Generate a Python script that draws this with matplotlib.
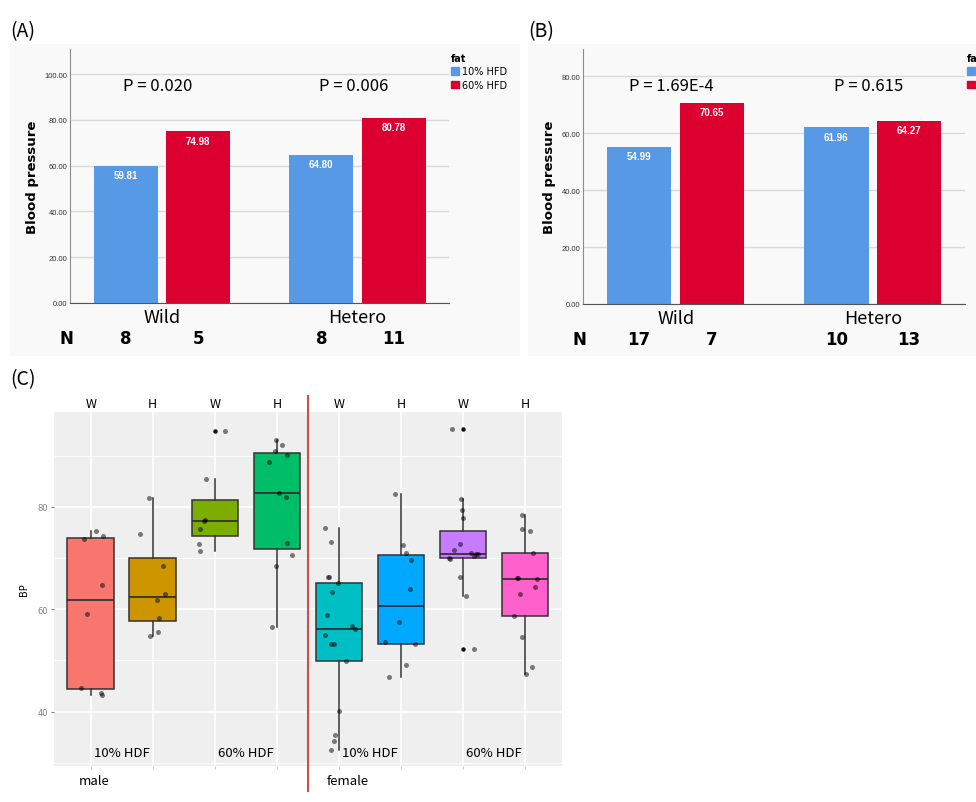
import numpy as np
import matplotlib.pyplot as plt
import matplotlib.transforms as mtransforms
from matplotlib.patches import Rectangle, Patch
from matplotlib import font_manager

plt.rcParams['font.family'] = ['DejaVu Sans']
KFONT = ['Noto Sans CJK KR', 'DejaVu Sans']
_names = {f.name for f in font_manager.fontManager.ttflist}
NARROW = 'Liberation Sans Narrow' if 'Liberation Sans Narrow' in _names else 'Liberation Sans'

# ---- data ----
genotypes = ['Wild', 'Hetero']
fat_levels = ['10% HFD', '60% HFD']
bar_colors = ['#5899E6', '#DC0030']

# (A)
a_mean_10 = [59.81, 64.80]
a_mean_60 = [74.98, 80.78]
a_n_10 = [8, 8]
a_n_60 = [5, 11]
a_pvals = ['P = 0.020', 'P = 0.006']

# (B)
b_mean_10 = [54.99, 61.96]
b_mean_60 = [70.65, 64.27]
b_n_10 = [17, 10]
b_n_60 = [7, 13]
b_pvals = ['P = 1.69E-4', 'P = 0.615']

# (C) individual BP values and the horizontal jitter seen in the picture
c_sex = ['male', 'female']
c_diet = ['10% HDF', '60% HDF']
c_geno = ['W', 'H', 'W', 'H', 'W', 'H', 'W', 'H']
c_colors = ['#F8766D', '#CD9600', '#7CAE00', '#00BE67',
            '#00BFC4', '#00A9FF', '#C77CFF', '#FF61CC']

m10_w = [75.3, 74.2, 73.7, 64.65, 59.0, 44.7, 43.6, 43.25]
m10_h = [81.69, 74.67, 68.42, 63.02, 61.85, 58.34, 55.48, 54.70]
m60_w = [94.83, 85.4, 77.4, 77.27, 75.64, 72.78, 71.28]
m60_h = [93.0, 91.97, 90.8, 90.02, 88.65, 82.67, 81.95, 72.9, 70.63, 68.36, 56.52]
f10_w = [75.77, 73.17, 66.21, 66.21, 65.17, 63.36, 58.8, 56.72, 56.07, 54.9,
         53.3, 53.2, 49.89, 40.07, 35.38, 34.2, 32.52]
f10_h = [82.47, 72.52, 70.96, 69.59, 64.0, 57.43, 53.53, 53.14, 49.11, 46.83]
f60_w = [95.22, 81.5, 79.35, 77.79, 72.72, 71.48, 70.96, 70.76, 70.7, 70.37,
         70.05, 69.9, 66.21, 62.57, 52.3]
f60_h = [78.37, 75.64, 75.25, 71.02, 66.15, 66.15, 65.82, 64.39, 63.02, 58.73,
         54.63, 48.72, 47.28]

jit_m10_w = [0.081, 0.199, -0.108, 0.177, -0.065, -0.151, 0.161, 0.188]
jit_m10_h = [-0.065, -0.199, 0.167, 0.199, 0.065, 0.102, 0.086, -0.038]
jit_m60_w = [0.161, -0.134, -0.156, -0.167, -0.242, -0.247, -0.242]
jit_m60_h = [-0.011, 0.091, -0.032, 0.161, -0.124, 0.032, 0.14, 0.161, 0.242, -0.011, -0.081]
jit_f10_w = [-0.226, -0.129, -0.172, -0.151, -0.016, -0.118, -0.194, 0.204, 0.253,
             -0.226, -0.086, -0.134, 0.118, 0.005, -0.07, -0.081, -0.134]
jit_f10_h = [-0.102, 0.032, 0.086, 0.167, 0.145, -0.032, -0.253, 0.226, 0.075, -0.194]
jit_f60_w = [-0.172, -0.038, -0.022, -0.005, -0.048, -0.14, 0.134, 0.247, 0.215,
             0.177, -0.226, -0.21, -0.048, 0.054, 0.177]
jit_f60_h = [-0.048, -0.043, 0.086, 0.124, -0.124, -0.113, 0.194, 0.161, -0.075,
             -0.183, -0.048, 0.108, 0.016]

c_values = [m10_w, m10_h, m60_w, m60_h, f10_w, f10_h, f60_w, f60_h]
c_jitter = [jit_m10_w, jit_m10_h, jit_m60_w, jit_m60_h,
            jit_f10_w, jit_f10_h, jit_f60_w, jit_f60_h]

fig = plt.figure(figsize=(9.76, 8.03), dpi=100)
W, H = 976.0, 803.0


def fig_rect(x0, y0, x1, y1):
    # pixel box (top-left origin) -> figure fraction
    return [x0 / W, 1 - y1 / H, (x1 - x0) / W, (y1 - y0) / H]


# faint panel backgrounds of the SPSS charts
for x0, x1 in [(10, 520), (528, 976)]:
    r = fig_rect(x0, 45, x1, 357)
    fig.patches.append(Rectangle((r[0], r[1]), r[2], r[3], transform=fig.transFigure,
                                 facecolor='#F9F9F9', edgecolor='none', zorder=-10))


def bar_panel(rect, m10, m60, n10, n60, pvals, ymax, yticks, legend_x):
    ax = fig.add_axes(rect)
    ax.set_facecolor('none')
    x = np.arange(len(genotypes))
    off, bw = 0.185, 0.327
    b1 = ax.bar(x - off, m10, bw, color=bar_colors[0], zorder=2)
    b2 = ax.bar(x + off, m60, bw, color=bar_colors[1], zorder=2)
    for bars, vals in [(b1, m10), (b2, m60)]:
        for rect_, v in zip(bars, vals):
            ax.annotate(f'{v:.2f}', xy=(rect_.get_x() + rect_.get_width() / 2, v),
                        xytext=(0, -3), textcoords='offset points', ha='center', va='top',
                        color='white', fontsize=7, fontweight='bold', family=NARROW, zorder=3)
    ax.set_xlim(-0.47, 1.468)
    ax.set_ylim(0, ymax)
    ax.set_yticks(yticks)
    ax.set_yticklabels([f'{t:.2f}' for t in yticks], fontsize=5.5, family='Liberation Sans',
                       color='#333333')
    ax.tick_params(axis='y', length=0, pad=2)
    ax.set_xticks([])
    ax.grid(axis='y', color='#D9D9D9', lw=1, zorder=0)
    for s in ['top', 'right']:
        ax.spines[s].set_visible(False)
    ax.spines['left'].set_color('#8C8C8C')
    ax.spines['bottom'].set_color('#555555')
    ax.set_ylabel('Blood pressure', fontsize=9.5, fontweight='bold', labelpad=4)
    tr = mtransforms.blended_transform_factory(ax.transData, ax.transAxes)
    for i, g in enumerate(genotypes):
        ax.text(x[i], -0.055, g, transform=tr, ha='center', va='center', fontsize=13, family=KFONT)
        ax.text(x[i] - off, -0.138, str(n10[i]), transform=tr, ha='center', va='center',
                fontsize=12, fontweight='bold')
        ax.text(x[i] + off, -0.138, str(n60[i]), transform=tr, ha='center', va='center',
                fontsize=12, fontweight='bold')
        ax.text(x[i] - 0.02, 0.855, pvals[i], transform=tr, ha='center', va='center',
                fontsize=12, family=KFONT)
    ax.text(-0.49, -0.138, 'N', transform=tr, ha='center', va='center', fontsize=12,
            fontweight='bold')
    handles = [Patch(color=c, label=l) for c, l in zip(bar_colors, fat_levels)]
    ax.legend(handles=handles, title='fat', loc='upper left',
              bbox_to_anchor=(legend_x, 0.985), frameon=False, fontsize=7,
              handlelength=0.8, handleheight=0.8, handletextpad=0.3,
              labelspacing=0.35, borderaxespad=0, borderpad=0,
              alignment='left',
              title_fontproperties={'weight': 'bold', 'size': 7})
    return ax


bar_panel(fig_rect(70, 50, 449, 304), a_mean_10, a_mean_60, a_n_10, a_n_60, a_pvals,
          111, [0, 20, 40, 60, 80, 100], 1.005)
bar_panel(fig_rect(583, 50, 965, 305), b_mean_10, b_mean_60, b_n_10, b_n_60, b_pvals,
          89.5, [0, 20, 40, 60, 80], 1.005)

for lab, px, py in [('(A)', 10, 32), ('(B)', 528, 32), ('(C)', 10, 380)]:
    fig.text(px / W, 1 - py / H, lab, ha='left', va='center', fontsize=14, family=KFONT)

# ---- (C) box plots ----
axc = fig.add_axes(fig_rect(54, 413, 562, 767))
axc.set_facecolor('#EFEFEF')
pos = np.arange(1, len(c_values) + 1)
bp = axc.boxplot(c_values, positions=pos, widths=0.75, patch_artist=True, showcaps=False,
                 whis=1.5, zorder=2,
                 boxprops=dict(edgecolor='#333333', lw=1.1),
                 medianprops=dict(color='#333333', lw=1.3),
                 whiskerprops=dict(color='#333333', lw=1.1),
                 flierprops=dict(marker='o', markerfacecolor='#111111', markeredgecolor='none',
                                 markersize=3.2))
for patch, c in zip(bp['boxes'], c_colors):
    patch.set_facecolor(c)
for p, vals, jit in zip(pos, c_values, c_jitter):
    axc.scatter(p + np.array(jit), vals, s=13, color='black', alpha=0.5, lw=0, zorder=4)

axc.set_xlim(0.408, 8.597)
axc.set_ylim(29.4, 98.5)
axc.set_yticks([40, 60, 80])
axc.set_yticks([30, 50, 70, 90], minor=True)
axc.tick_params(axis='y', which='major', labelsize=6, labelcolor='#7F7F7F', color='#7F7F7F',
                length=2.5, pad=1.5)
axc.tick_params(axis='y', which='minor', length=0)
axc.set_xticks(pos)
axc.set_xticklabels([''] * len(pos))
axc.tick_params(axis='x', length=2, color='#CCCCCC')
axc.grid(which='major', color='white', lw=1.2, zorder=0)
axc.grid(which='minor', axis='y', color='white', lw=0.6, zorder=0)
axc.set_axisbelow(True)
for s in axc.spines.values():
    s.set_visible(False)
axc.set_ylabel('BP', fontsize=7, labelpad=6)

trc = mtransforms.blended_transform_factory(axc.transData, axc.transAxes)
for p, g in zip(pos, c_geno):
    axc.text(p, 1.005, g, transform=trc, ha='center', va='bottom', fontsize=9, family=KFONT)
for k in range(4):
    axc.text(pos[2 * k] + 0.5, 0.037, c_diet[k % 2], transform=trc, ha='center', va='center',
             fontsize=9.5, family=KFONT)
for k, s in enumerate(c_sex):
    axc.text(pos[4 * k] - 0.2, -0.04, s, transform=trc, ha='left', va='center',
             fontsize=9.5, family=KFONT)
axc.plot([4.5, 4.5], [1.045, -0.071], transform=trc, color='#C8504F', lw=1.5,
         clip_on=False, zorder=5)

fig.savefig('out.png', dpi=100)
